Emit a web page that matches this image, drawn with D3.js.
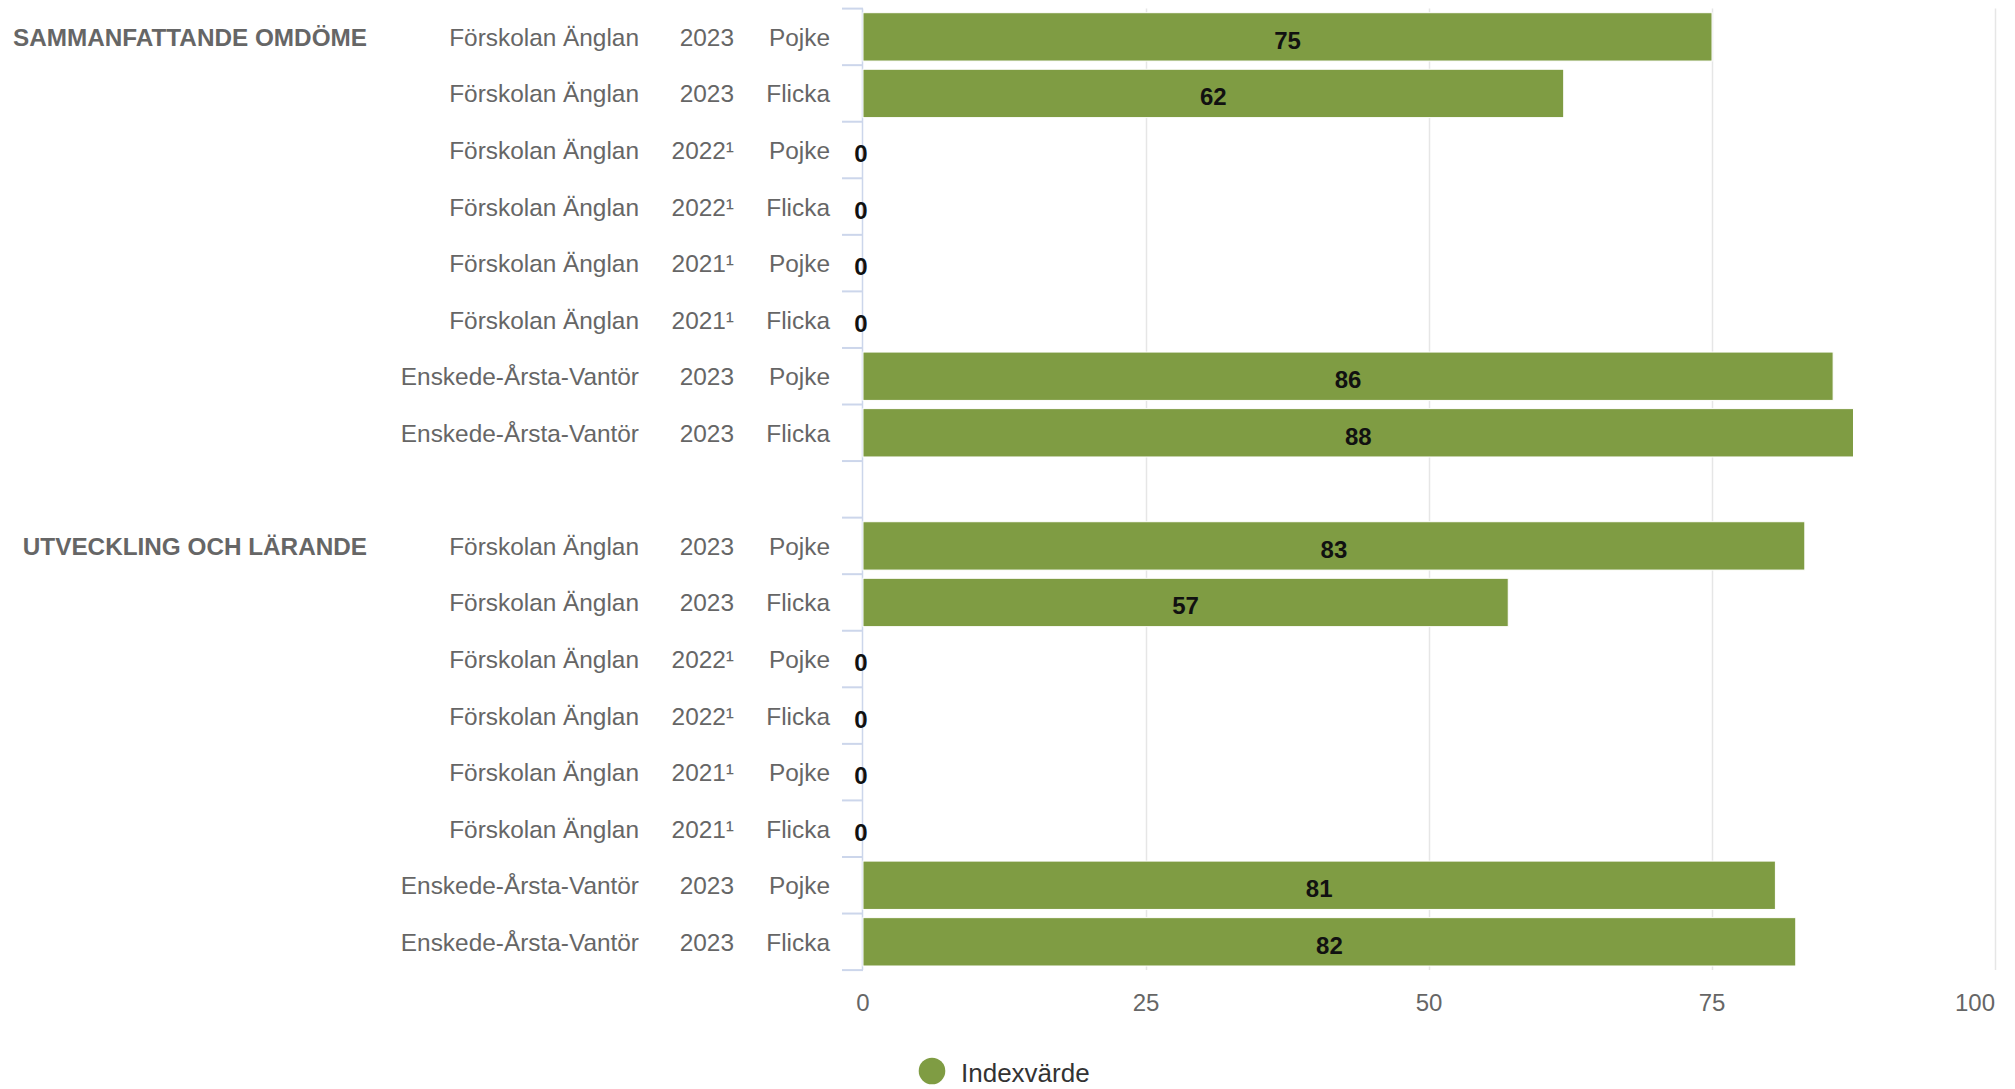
<!DOCTYPE html>
<html>
<head>
<meta charset="utf-8">
<script src="https://cdn.jsdelivr.net/npm/d3@7"></script>
<style>
  body { margin: 0; background: #fff; }
  text { font-family: "Liberation Sans", Arial, sans-serif; }
</style>
</head>
<body>
<div id="chart"></div>
<script>
// data (bar lengths; labels show them rounded)
var groups = ["SAMMANFATTANDE OMDÖME", "UTVECKLING OCH LÄRANDE"];
var units = ["Förskolan Änglan", "Förskolan Änglan", "Förskolan Änglan", "Förskolan Änglan",
             "Förskolan Änglan", "Förskolan Änglan", "Enskede-Årsta-Vantör", "Enskede-Årsta-Vantör"];
var years = ["2023", "2023", "2022¹", "2022¹", "2021¹", "2021¹", "2023", "2023"];
var genders = ["Pojke", "Flicka", "Pojke", "Flicka", "Pojke", "Flicka", "Pojke", "Flicka"];
var sammanfattandeValues = [75, 61.9, 0, 0, 0, 0, 85.7, 87.5];
var utvecklingValues = [83.2, 57, 0, 0, 0, 0, 80.6, 82.4];
var xTicks = [0, 25, 50, 75, 100];
var seriesName = "Indexvärde";

var barColor = "#7f9c43";
var W = 2015, H = 1089;

// one row per bar, with an empty slot between the two groups
var rows = [];
[sammanfattandeValues, utvecklingValues].forEach(function (vals, g) {
    if (g > 0) rows.push({ key: "gap" + g, spacer: true });
    vals.forEach(function (v, i) {
        rows.push({
            key: g + "-" + i, group: groups[g], first: i === 0,
            unit: units[i], year: years[i], gender: genders[i], value: v
        });
    });
});

var svg = d3.select("#chart").append("svg")
    .attr("width", W).attr("height", H);

var x = d3.scaleLinear().domain([0, 100]).range([863, 1995]);
var y = d3.scaleBand().domain(rows.map(function (d) { return d.key; }))
    .range([8.6, 970.1]);
var yBar = y.copy().paddingInner(0.145).paddingOuter(0.0725);

// grid lines
svg.append("g")
    .selectAll("line")
    .data(xTicks.filter(function (t) { return t > 0; }))
    .enter().append("line")
    .attr("x1", function (d) { return Math.round(x(d)) + 0.5; })
    .attr("x2", function (d) { return Math.round(x(d)) + 0.5; })
    .attr("y1", y.range()[0])
    .attr("y2", y.range()[1])
    .attr("stroke", "#e6e6e6")
    .attr("stroke-width", 1.5);

// y axis line and ticks at band edges
var edges = rows.map(function (d) { return y(d.key); }).concat([y.range()[1]]);
svg.append("line")
    .attr("x1", x(0) - 0.5).attr("x2", x(0) - 0.5)
    .attr("y1", y.range()[0]).attr("y2", y.range()[1])
    .attr("stroke", "#ccd6eb").attr("stroke-width", 1.5);
svg.append("g")
    .selectAll("line")
    .data(edges)
    .enter().append("line")
    .attr("x1", x(0) - 21).attr("x2", x(0))
    .attr("y1", function (d) { return d; })
    .attr("y2", function (d) { return d; })
    .attr("stroke", "#ccd6eb")
    .attr("stroke-width", 2);

var dataRows = rows.filter(function (d) { return !d.spacer; });

// bars
svg.append("g")
    .selectAll("rect")
    .data(dataRows.filter(function (d) { return d.value > 0; }))
    .enter().append("rect")
    .attr("x", x(0))
    .attr("y", function (d) { return yBar(d.key); })
    .attr("width", function (d) { return x(d.value) - x(0); })
    .attr("height", yBar.bandwidth())
    .attr("fill", barColor)
    .attr("stroke", "#fff")
    .attr("stroke-width", 1);

// value labels
svg.append("g")
    .selectAll("text")
    .data(dataRows)
    .enter().append("text")
    .attr("x", function (d) { return (x(0) + x(d.value)) / 2 - (d.value === 0 ? 2 : 0); })
    .attr("y", function (d) { return y(d.key) + y.bandwidth() / 2 + 12; })
    .attr("text-anchor", "middle")
    .attr("font-size", "24px")
    .attr("font-weight", "bold")
    .attr("fill", "#111")
    .text(function (d) { return Math.round(d.value); });

// category columns
var cols = [
    { field: "unit", right: 639 },
    { field: "year", right: 734 },
    { field: "gender", right: 830 }
];
cols.forEach(function (c) {
    svg.append("g")
        .selectAll("text")
        .data(dataRows)
        .enter().append("text")
        .attr("x", c.right)
        .attr("y", function (d) { return y(d.key) + y.bandwidth() / 2 + 9; })
        .attr("text-anchor", "end")
        .attr("font-size", "24.4px")
        .attr("fill", "#666")
        .text(function (d) { return d[c.field]; });
});

// group labels
svg.append("g")
    .selectAll("text")
    .data(dataRows.filter(function (d) { return d.first; }))
    .enter().append("text")
    .attr("x", 367)
    .attr("y", function (d) { return y(d.key) + y.bandwidth() / 2 + 9; })
    .attr("text-anchor", "end")
    .attr("font-size", "24.3px")
    .attr("font-weight", "bold")
    .attr("fill", "#666")
    .text(function (d) { return d.group; });

// x axis tick labels
var tickLabels = svg.append("g")
    .selectAll("text")
    .data(xTicks)
    .enter().append("text")
    .attr("x", function (d) { return x(d); })
    .attr("y", 1011)
    .attr("text-anchor", "middle")
    .attr("font-size", "24px")
    .attr("fill", "#666")
    .text(function (d) { return d; });
// keep the last label inside the plot width
tickLabels.each(function (d) {
    var w = this.getComputedTextLength();
    if (x(d) + w / 2 > x.range()[1]) {
        d3.select(this).attr("text-anchor", "end").attr("x", x.range()[1]);
    }
});

// legend
var legend = svg.append("g");
legend.append("circle")
    .attr("cx", 932).attr("cy", 1071).attr("r", 13.3)
    .attr("fill", barColor);
legend.append("text")
    .attr("x", 961).attr("y", 1082)
    .attr("font-size", "26px")
    .attr("fill", "#333")
    .text(seriesName);
</script>
</body>
</html>
